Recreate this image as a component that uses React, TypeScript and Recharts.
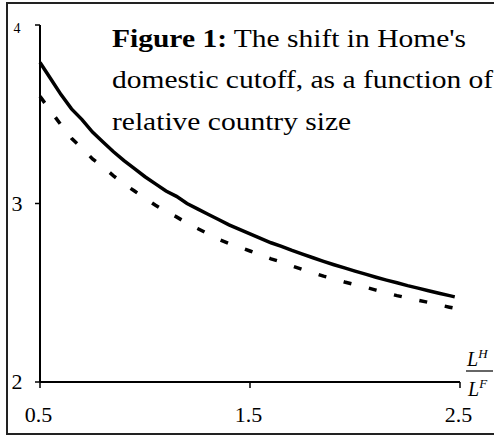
import React from "react";
import { LineChart, Line, XAxis, YAxis } from "recharts";

// Relative country size L^H / L^F
const relSize = [
  0.5, 0.55, 0.6, 0.65, 0.7, 0.75, 0.8, 0.85, 0.9, 0.95, 1.0, 1.05, 1.1, 1.15, 1.2,
  1.25, 1.3, 1.35, 1.4, 1.45, 1.5, 1.55, 1.6, 1.65, 1.7, 1.75, 1.8, 1.85, 1.9, 1.95,
  2.0, 2.05, 2.1, 2.15, 2.2, 2.25, 2.3, 2.35, 2.4, 2.45, 2.475,
];
// Home's domestic cutoff (solid)
const cutoffSolid = [
  3.79, 3.7, 3.61, 3.53, 3.47, 3.4, 3.345, 3.29, 3.24, 3.195, 3.15, 3.11, 3.07, 3.04, 3.0,
  2.97, 2.94, 2.91, 2.88, 2.855, 2.83, 2.805, 2.78, 2.76, 2.737, 2.716, 2.696, 2.676, 2.657, 2.639,
  2.621, 2.604, 2.587, 2.571, 2.556, 2.54, 2.526, 2.511, 2.497, 2.484, 2.477,
];
// Dashed comparison curve
const cutoffDashed = [
  3.6, 3.52, 3.44, 3.365, 3.31, 3.25, 3.205, 3.155, 3.11, 3.07, 3.03, 2.99, 2.955, 2.925, 2.89,
  2.86, 2.83, 2.8, 2.776, 2.755, 2.734, 2.712, 2.69, 2.672, 2.65, 2.63, 2.612, 2.593, 2.577, 2.56,
  2.545, 2.531, 2.515, 2.499, 2.484, 2.471, 2.458, 2.446, 2.432, 2.419, 2.413,
];
const xTicks = [0.5, 1.5, 2.5];
const yTicks = [2, 3, 4];

const data = relSize.map((x, i) => ({ x, solid: cutoffSolid[i], dashed: cutoffDashed[i] }));

const FONT = "'Liberation Serif', 'Times New Roman', serif";

const YTick = (props: any) => {
  const { y, payload } = props;
  const small = payload.value === 4;
  const fs = small ? 14 : 22;
  return (
    <text x={17} y={y + fs * 0.34 + (small ? 3 : 0)} textAnchor="middle" fontFamily={FONT} fontSize={fs} fill="#000">
      {payload.value}
    </text>
  );
};

const XTick = (props: any) => {
  const { x, payload } = props;
  return (
    <text x={x - 1.5} y={422} textAnchor="middle" fontFamily={FONT} fontSize={22} fill="#000">
      {payload.value}
    </text>
  );
};

export default function App() {
  return (
    <div style={{ position: "absolute", left: 0, top: 0, width: 494, height: 435, background: "#fff", overflow: "hidden" }}>
      <div
        style={{
          position: "absolute",
          left: 6,
          top: 2,
          width: 494,
          height: 429,
          borderLeft: "2px solid #222",
          borderTop: "2px solid #222",
          borderBottom: "2px solid #222",
        }}
      />
      <div style={{ position: "absolute", left: 0, top: 0 }}>
        <LineChart width={494} height={435} data={data} margin={{ top: 25, right: 34, bottom: 23, left: 0 }}>
          <XAxis
            dataKey="x"
            type="number"
            domain={[0.5, 2.5]}
            ticks={xTicks}
            height={30}
            axisLine={{ stroke: "#000", strokeWidth: 2 }}
            tickLine={{ stroke: "#000", strokeWidth: 1.5 }}
            tickSize={6}
            tick={<XTick />}
            interval={0}
          />
          <YAxis
            type="number"
            domain={[2, 4]}
            ticks={yTicks}
            width={40}
            axisLine={{ stroke: "#000", strokeWidth: 2 }}
            tickLine={{ stroke: "#000", strokeWidth: 1.5 }}
            tickSize={5}
            tick={<YTick />}
            interval={0}
          />
          <Line
            type="linear"
            dataKey="dashed"
            stroke="#000"
            strokeWidth={3.5}
            strokeDasharray="8 18"
            dot={false}
            isAnimationActive={false}
          />
          <Line
            type="linear"
            dataKey="solid"
            stroke="#000"
            strokeWidth={3.5}
            dot={false}
            isAnimationActive={false}
          />
        </LineChart>
      </div>
      <svg width={494} height={435} style={{ position: "absolute", left: 0, top: 0, pointerEvents: "none" }}>
        <g fontFamily={FONT} fontSize={26} fill="#000">
          <g transform="translate(112,47) scale(1.135,1)">
            <text x={0} y={0}>
              <tspan fontWeight="bold">Figure 1:</tspan> The shift in Home's
            </text>
          </g>
          <g transform="translate(112,88) scale(1.135,1)">
            <text x={0} y={0}>domestic cutoff, as a function of</text>
          </g>
          <g transform="translate(112,130) scale(1.135,1)">
            <text x={0} y={0}>relative country size</text>
          </g>
        </g>
        <g fontFamily={FONT} fill="#000">
          <text x={467} y={366} fontSize={20} fontStyle="italic">
            L<tspan fontSize={13} dy={-8}>H</tspan>
          </text>
          <line x1={466} y1={371} x2={493} y2={371} stroke="#000" strokeWidth={1.2} />
          <text x={468} y={396} fontSize={20} fontStyle="italic">
            L<tspan fontSize={13} dy={-8}>F</tspan>
          </text>
        </g>
      </svg>
    </div>
  );
}
